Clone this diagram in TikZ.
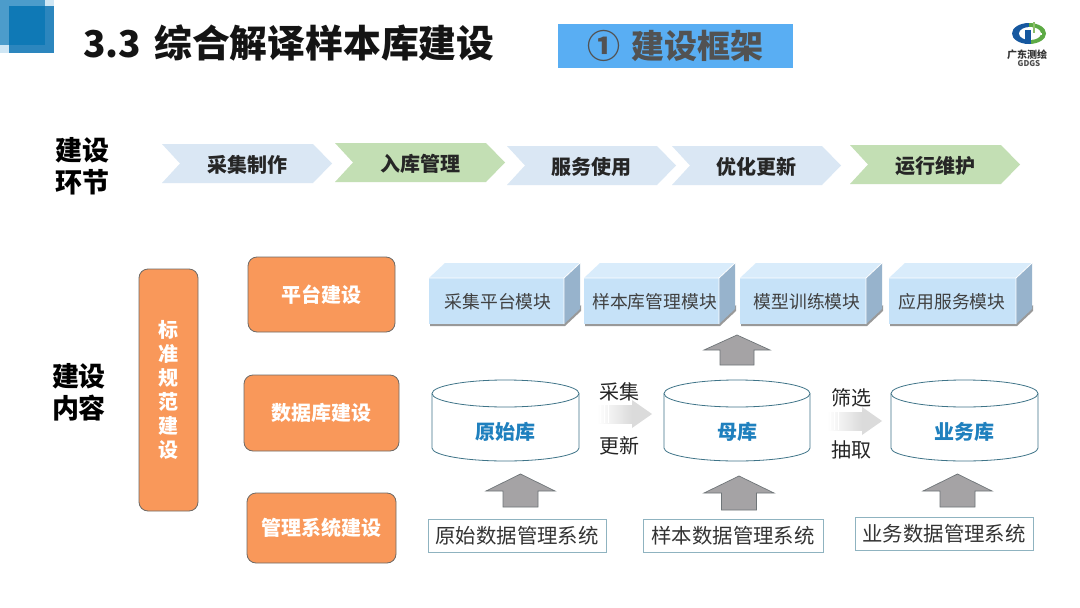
\documentclass[tikz,border=0pt]{standalone}
\usepackage{fontspec}
\setmainfont{Noto Sans CJK SC}
\usetikzlibrary{calc}
\newcommand{\fs}[1]{\fontsize{#1}{#1}\selectfont}
\definecolor{chevblue}{HTML}{DAE7F4}
\definecolor{chevgreen}{HTML}{C3DFB4}
\definecolor{orangebox}{HTML}{F9985A}
\definecolor{orangeedge}{HTML}{6E6A66}
\definecolor{blockfront}{HTML}{C6E2F8}
\definecolor{blocktop}{HTML}{D9ECFB}
\definecolor{blockside}{HTML}{97B3CC}
\definecolor{cyledge}{HTML}{3F7488}
\definecolor{cyltext}{HTML}{1F80BE}
\definecolor{arrowgray}{HTML}{A5A3A5}
\definecolor{arrowedge}{HTML}{6F7578}
\definecolor{sysedge}{HTML}{8FB3C0}
\definecolor{cornerpale}{HTML}{CFE6F4}
\definecolor{cornermid}{HTML}{4C9CCB}
\definecolor{cornerfront}{HTML}{2C86BE}
\definecolor{cornerdark}{HTML}{0F79B6}
\definecolor{btnblue}{HTML}{59AEF3}
\definecolor{logoblue}{HTML}{16589F}
\definecolor{logogreen}{HTML}{5DAA45}
\definecolor{logopale}{HTML}{8DBF6A}
\tikzset{
  chevlabel/.style={font=\bfseries\fs{20}, text=black!85},
  sidelabel/.style={font=\bfseries\fs{27}, text=black, align=center, inner sep=0pt},
  orangenode/.style={draw=orangeedge, line width=0.8pt, fill=orangebox, rounded corners=9pt, text=white, font=\bfseries\fs{20}, inner sep=0pt, align=center},
  blocktext/.style={font=\fs{17.8}, text=black!75, inner sep=0pt},
  cyltxt/.style={font=\bfseries\fs{20}, text=cyltext, inner sep=0pt},
  sysnode/.style={draw=sysedge, line width=0.9pt, fill=white, font=\fs{20.4}, text=black!80, inner sep=0pt},
  flowlabel/.style={font=\fs{20}, text=black!85, inner sep=0pt},
  uparrow/.style={fill=arrowgray, draw=arrowedge, line width=0.7pt, line join=miter},
}
% chevron: left, top, right, fill, name, text
\newcommand{\chev}[6]{%
  \fill[#4] (#1,#2) -- ({#3-19},#2) -- (#3,{#2+19.5}) -- ({#3-19},{#2+39}) -- (#1,{#2+39}) -- ({#1+18},{#2+19.5}) -- cycle;
  \node[chevlabel] (#5) at ({(#1+#3)/2},{#2+20.5}) {#6};}
% block: left, right(front), text centre, name, text
\newcommand{\blockmod}[5]{%
  \fill[black!40] (#1+1,326) -- (#2+1,326) -- (#2+17,311) -- (#2+17,305) -- (#2,322) -- (#1+1,322) -- cycle;
  \fill[blocktop] (#1,278) -- (#1+16,263) -- (#2+16,263) -- (#2,278) -- cycle;
  \fill[blockside] (#2,278) -- (#2+16,263) -- (#2+16,309) -- (#2,324) -- cycle;
  \fill[blockfront] (#1,278) rectangle (#2,324);
  \draw[white, line width=0.8pt] (#1,278) -- (#2,278) -- (#2+16,263) (#2,278) -- (#2,324);
  \node[blocktext] (#4) at (#3,302) {#5};}
% cylinder: left, right, name, text
\newcommand{\cyl}[4]{%
  \filldraw[draw=cyledge, line width=0.8pt, fill=white] (#1,393.5) -- (#1,448) arc[start angle=180, end angle=360, x radius={(#2-#1)/2*1pt}, y radius=13pt] -- (#2,393.5);
  \draw[draw=cyledge, line width=0.8pt, fill=white] ({(#1+#2)/2},393.5) ellipse [x radius={(#2-#1)/2*1pt}, y radius=13.5pt];
  \node[cyltxt] (#3) at ({(#1+#2)/2},432) {#4};}
% up arrow: centre, apex y, head half-width, shaft half-width, head base y, bottom y
\newcommand{\uparr}[6]{%
  \path[uparrow] (#1,#2) -- (#1+#3,#5) -- (#1+#4,#5) -- (#1+#4,#6) -- (#1-#4,#6) -- (#1-#4,#5) -- (#1-#3,#5) -- cycle;}
% light right arrow: left, centre y
\newcommand{\lightarr}[2]{%
  \shade[left color=white, right color=black!14] (#1,#2-9) rectangle (#1+35,#2+9);
  \fill[black!14] (#1+35,#2-14) -- (#1+55,#2) -- (#1+35,#2+14) -- cycle;
  \foreach \k in {3,7,11} {\draw[white, line width=0.8pt] (#1+\k,#2-9) -- (#1+\k,#2+9);}}
\begin{document}
\begin{tikzpicture}[x=1pt,y=-1pt]
\useasboundingbox (0,0) rectangle (1080,608);
\fill[white] (0,0) rectangle (1080,608);
% corner decoration
\fill[cornerpale] (0,0) rectangle (54,53);
\fill[cornermid] (0,0) rectangle (45,45);
\fill[cornerfront] (9,6) rectangle (54,53);
\fill[cornerdark] (9,6) rectangle (45,45);
% title
\node[anchor=west, font=\bfseries\fs{37}, text=black!92, inner sep=0pt] (title) at (83,43) {3.3\hspace{13pt}{\fs{37.8}综合解译样本库建设}};
\node[fill=btnblue, minimum width=235pt, minimum height=44pt, inner sep=0pt] (btn) at (675.5,46) {};
\node[font=\bfseries\fs{33}, text=black!68, inner sep=0pt] (btntext) at (675.5,46) {①\hspace{12pt}建设框架};
% logo
\fill[logoblue] (1029,23) arc[start angle=90,end angle=270,x radius=17pt,y radius=10.5pt] -- cycle;
\fill[logogreen] (1029,23) arc[start angle=90,end angle=-90,x radius=17pt,y radius=10.5pt] -- cycle;
\fill[white] (1030,33.5) ellipse [x radius=11pt, y radius=6.5pt];
\fill[logoblue] (1025,30) rectangle (1031,44);
\fill[white] (1031,32.5) rectangle (1042,35);
\fill[logopale] (1033,22) rectangle (1035,33);
\node[font=\bfseries\fs{10}, text=black!80, inner sep=0pt] (logoa) at (1027,55) {广东测绘};
\node[font=\bfseries\fs{8}, text=black!70, inner sep=0pt] (logob) at (1029,64) {GDGS};
% row 1
\node[sidelabel] (labA) at (83,166.5) {建设\\[5pt]环节};
\chev{162}{144}{332}{chevblue}{s1}{采集制作}
\chev{335}{143}{505}{chevgreen}{s2}{入库管理}
\chev{507}{146}{676}{chevblue}{s3}{服务使用}
\chev{672}{146}{841}{chevblue}{s4}{优化更新}
\chev{850}{145}{1020}{chevgreen}{s5}{运行维护}
% row 2
\node[sidelabel] (labB) at (79,392.5) {建设\\[5pt]内容};
\node[orangenode, minimum width=59pt, minimum height=242pt] (std) at (168.5,390) {标\\[4pt]准\\[4pt]规\\[4pt]范\\[4pt]建\\[4pt]设};
\node[orangenode, minimum width=147pt, minimum height=75pt] (o1) at (321.5,294.5) {平台建设};
\node[orangenode, minimum width=155pt, minimum height=76pt] (o2) at (321.5,413) {数据库建设};
\node[orangenode, minimum width=149pt, minimum height=70pt] (o3) at (321.5,528) {管理系统建设};
\blockmod{429}{564}{498}{b1}{采集平台模块}
\blockmod{584}{719}{654.5}{b2}{样本库管理模块}
\blockmod{740}{866}{807}{b3}{模型训练模块}
\blockmod{889}{1016}{952}{b4}{应用服务模块}
\uparr{737}{335}{33}{17}{350}{365}
\cyl{432}{579}{c1}{原始库}
\cyl{664}{810}{c2}{母库}
\cyl{891}{1038}{c3}{业务库}
\lightarr{597}{414}
\lightarr{827}{421}
\node[flowlabel] (f1) at (619,392) {采集};
\node[flowlabel] (f2) at (619,446) {更新};
\node[flowlabel] (f3) at (851,398) {筛选};
\node[flowlabel] (f4) at (851,450) {抽取};
\uparr{520.5}{474}{34.5}{17.5}{491}{507}
\uparr{739}{476}{35}{17.5}{493}{510}
\uparr{957.5}{474}{34.5}{17.5}{491}{507}
\node[sysnode, minimum width=178pt, minimum height=33pt] (m1) at (517,535.5) {原始数据管理系统};
\node[sysnode, minimum width=180pt, minimum height=33pt] (m2) at (733,535.5) {样本数据管理系统};
\node[sysnode, minimum width=178pt, minimum height=33pt] (m3) at (944,533.5) {业务数据管理系统};
\end{tikzpicture}
\end{document}
